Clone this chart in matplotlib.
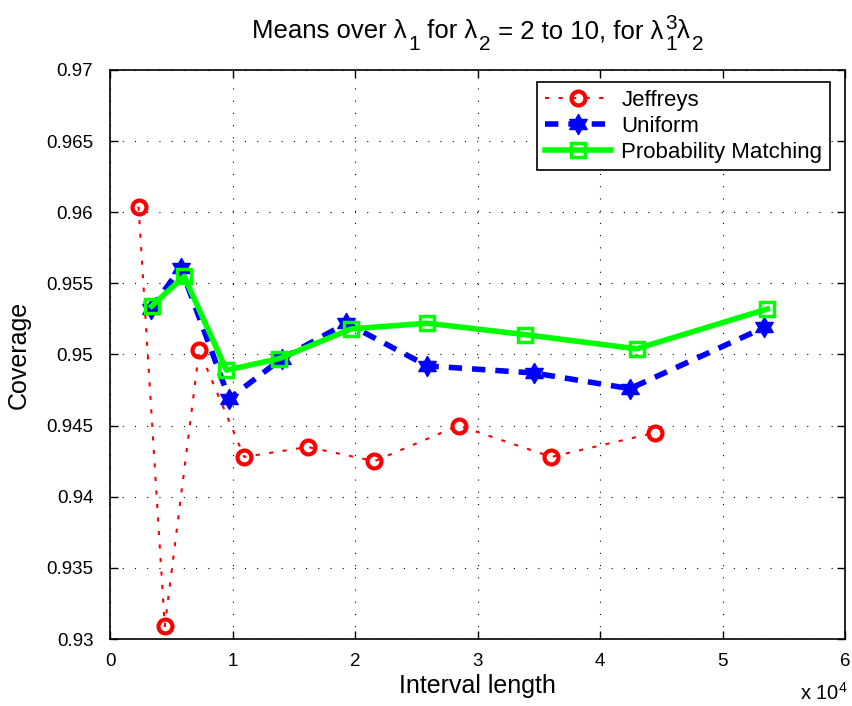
import matplotlib
matplotlib.use('Agg')
import matplotlib.pyplot as plt
from matplotlib.path import Path
from matplotlib.ticker import FuncFormatter, MultipleLocator

# дані (довжина інтервалу, покриття)
jeffreys_len = [2330, 4470, 7280, 10960, 16130, 21590, 28450, 36030, 44480]
jeffreys_cov = [0.9604, 0.9309, 0.9503, 0.9428, 0.9435, 0.9425, 0.9450, 0.9428, 0.9445]

uniform_len = [3320, 5780, 9730, 14000, 19300, 25900, 34600, 42440, 53400]
uniform_cov = [0.9532, 0.9561, 0.9469, 0.9497, 0.9522, 0.9492, 0.9487, 0.9476, 0.9519]

pm_len = [3400, 6050, 9510, 13760, 19680, 25900, 33850, 42980, 53660]
pm_cov = [0.9534, 0.9555, 0.9489, 0.9497, 0.9518, 0.9522, 0.9514, 0.9504, 0.9532]

plt.rcParams['font.family'] = ['Liberation Sans', 'DejaVu Sans']
plt.rcParams['mathtext.fontset'] = 'custom'
plt.rcParams['mathtext.rm'] = 'Liberation Sans'
plt.rcParams['mathtext.it'] = 'Liberation Sans'

W, H = 852, 706
fig = plt.figure(figsize=(W / 100, H / 100), dpi=100)
ax = fig.add_axes([110 / W, 1 - 639 / H, 735 / W, 569 / H])

# гексаграма як у MATLAB
hexagram = Path.unit_regular_star(6, 0.57735)

ax.plot(jeffreys_len, jeffreys_cov, color='red', lw=1.5, dashes=(2, 4.5),
        marker='o', ms=10, mfc='none', mec='red', mew=3, label='Jeffreys')
ax.plot(uniform_len, uniform_cov, color='blue', lw=4, dashes=(2.4, 1.8),
        marker=hexagram, ms=14.5, mfc='blue', mec='blue', mew=1, label='Uniform')
ax.plot(pm_len, pm_cov, '-', color='#00ff00', lw=4,
        marker='s', ms=9.5, mfc='none', mec='#00ff00', mew=2.5, label='Probability Matching')

ax.set_xlim(0, 60000)
ax.set_ylim(0.93, 0.97)
ax.xaxis.set_major_locator(MultipleLocator(10000))
ax.yaxis.set_major_locator(MultipleLocator(0.005))
ax.xaxis.set_major_formatter(FuncFormatter(lambda v, p: f'{v / 1e4:g}'))
ax.yaxis.set_major_formatter(FuncFormatter(lambda v, p: f'{v:g}'))

ax.grid(True, color='black', linestyle=(0, (1, 10)), linewidth=0.8)
ax.tick_params(direction='in', top=True, right=True, labelsize=13.5, length=6, width=1)
ax.tick_params(axis='x', pad=10)
ax.tick_params(axis='y', pad=12)
for s in ax.spines.values():
    s.set_linewidth(1.2)

ax.set_xlabel('Interval length', fontsize=18, labelpad=3)
ax.set_ylabel('Coverage', fontsize=18, labelpad=11)
ax.text((848 - 110) / 735, (639 - 700) / 569, r'x 10$^{4}$', transform=ax.transAxes,
        ha='right', va='baseline', fontsize=14.5)

leg = ax.legend(loc='upper right', bbox_to_anchor=(0.9796, 0.979), fontsize=16,
                fancybox=False, framealpha=1, edgecolor='black', handlelength=3.0,
                borderpad=0.35, labelspacing=0.22, handletextpad=0.45, borderaxespad=0)
leg.get_frame().set_linewidth(1.2)

# заголовок із нижніми та верхніми індексами, складений з окремих шматків
title_parts = [('Means over λ', 0), ('1', -1), (' for λ', 0), ('2', -1),
               (' = 2 to 10, for λ', 0), ('3', 1), ('1', -1), ('λ', 0), ('2', -1)]
base_size, idx_size = 18.5, 15
base_y = 38
renderer = fig.canvas.get_renderer()
items = []
x = 0.0
for k, (txt, kind) in enumerate(title_parts):
    size = base_size if kind == 0 else idx_size
    t = fig.text(0, 0, txt, fontsize=size, va='baseline', ha='left')
    w = t.get_window_extent(renderer).width
    if kind != 0 and title_parts[k - 1][1] == 0:
        x += 2
    items.append((t, x, kind))
    # верхній індекс стоїть над нижнім, тож не зсуваємо позицію
    if kind != 1:
        x += w
total = x
x_start = (110 + 845) / 2 - total / 2
for t, xo, kind in items:
    dy = {0: 0, -1: 12, 1: -9}[kind]
    t.set_position(((x_start + xo) / W, 1 - (base_y + dy) / H))

fig.savefig('out.png', dpi=100)
